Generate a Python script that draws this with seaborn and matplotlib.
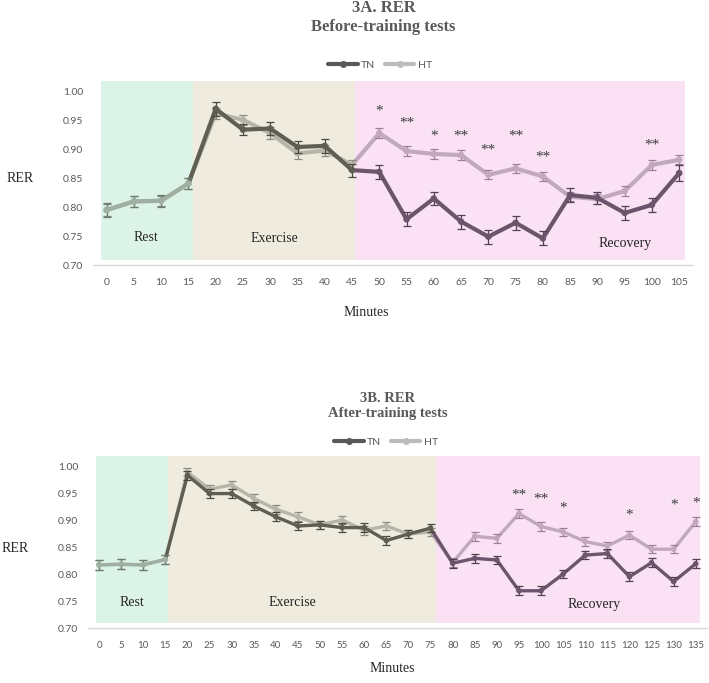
import numpy as np
import pandas as pd
import matplotlib
matplotlib.use('Agg')
import matplotlib.pyplot as plt
from matplotlib.lines import Line2D
import seaborn as sns

# 3A - before-training tests
minutes_a = list(range(0, 110, 5))
phase_a = ['rest'] * 4 + ['exercise'] * 6 + ['recovery'] * 12
tn_a = [0.795, 0.810, 0.811, 0.841, 0.970, 0.934, 0.936, 0.904, 0.906, 0.864, 0.861,
        0.779, 0.815, 0.775, 0.749, 0.773, 0.746, 0.821, 0.816, 0.790, 0.804, 0.859]
ht_a = [0.795, 0.810, 0.811, 0.841, 0.962, 0.951, 0.928, 0.893, 0.898, 0.873, 0.928,
        0.897, 0.892, 0.890, 0.856, 0.867, 0.853, 0.818, 0.814, 0.828, 0.873, 0.882]
tn_a_err = [0.012, 0.010, 0.010, 0.010, 0.012, 0.010, 0.011, 0.010, 0.012, 0.011, 0.012,
            0.012, 0.012, 0.012, 0.012, 0.012, 0.012, 0.012, 0.010, 0.012, 0.012, 0.014]
ht_a_err = [0.010, 0.009, 0.009, 0.009, 0.009, 0.009, 0.010, 0.010, 0.009, 0.009, 0.009,
            0.008, 0.008, 0.008, 0.008, 0.008, 0.008, 0.008, 0.008, 0.009, 0.008, 0.008]
stars_a_x = [50, 55, 60, 65, 70, 75, 80, 100]
stars_a_y = [0.966, 0.946, 0.923, 0.923, 0.899, 0.923, 0.887, 0.907]
stars_a_txt = ['*', '**', '*', '**', '**', '**', '**', '**']

# 3B - after-training tests
minutes_b = list(range(0, 140, 5))
phase_b = ['rest'] * 4 + ['exercise'] * 12 + ['recovery'] * 12
tn_b = [0.817, 0.818, 0.817, 0.827, 0.983, 0.949, 0.949, 0.926, 0.906, 0.889, 0.891, 0.886, 0.886, 0.862,
        0.874, 0.885, 0.820, 0.829, 0.826, 0.769, 0.769, 0.800, 0.835, 0.838, 0.795, 0.821, 0.786, 0.819]
ht_b = [0.817, 0.818, 0.817, 0.827, 0.989, 0.957, 0.965, 0.940, 0.920, 0.906, 0.891, 0.900, 0.881, 0.889,
        0.874, 0.878, 0.821, 0.870, 0.866, 0.912, 0.888, 0.878, 0.860, 0.852, 0.872, 0.846, 0.846, 0.897]
tn_b_err = [0.009] * 4 + [0.008] * 12 + [0.008] * 12
ht_b_err = [0.009] * 4 + [0.008] * 12 + [0.008] * 12
stars_b_x = [95, 100, 105, 120, 130, 135]
stars_b_y = [0.946, 0.938, 0.922, 0.910, 0.928, 0.931]
stars_b_txt = ['**', '**', '*', '*', '*', '*']

# phase spans (minutes) and label spots
spans_a = {'rest': (-1.1, 15.9), 'exercise': (15.9, 45.5), 'recovery': (45.5, 106)}
spans_b = {'rest': (-0.75, 15.7), 'exercise': (15.7, 76.2), 'recovery': (76.2, 136)}
labels_a = {'Rest': (7.2, 0.748), 'Exercise': (30.7, 0.745), 'Recovery': (95, 0.738)}
labels_b = {'Rest': (7.5, 0.748), 'Exercise': (43.7, 0.748), 'Recovery': (112, 0.743)}

bg = {'rest': '#dcf3e7', 'exercise': '#efebdf', 'recovery': '#fae2f4'}
line_col = {('TN', 'rest'): '#9fb0a3', ('HT', 'rest'): '#a5b5a8',
            ('TN', 'exercise'): '#5e5e52', ('HT', 'exercise'): '#b7b5a7',
            ('TN', 'recovery'): '#6c546c', ('HT', 'recovery'): '#c2a8bf'}
err_col = {('TN', 'rest'): '#6f7a70', ('HT', 'rest'): '#7d887f',
           ('TN', 'exercise'): '#4a4a40', ('HT', 'exercise'): '#8d8b7f',
           ('TN', 'recovery'): '#553f55', ('HT', 'recovery'): '#9c7f98'}

sns.set_style('white')
plt.rcParams['font.family'] = ['DejaVu Sans']
serif = 'Liberation Serif'
sans = 'Lato'
gray = '#595959'


def make_df(minutes, phase, tn, ht, tn_err, ht_err):
    df_tn = pd.DataFrame({'minutes': minutes, 'phase': phase, 'RER': tn, 'err': tn_err, 'group': 'TN'})
    df_ht = pd.DataFrame({'minutes': minutes, 'phase': phase, 'RER': ht, 'err': ht_err, 'group': 'HT'})
    return pd.concat([df_ht, df_tn], ignore_index=True)


def draw_panel(ax, df, spans, labels, stars, minutes, lw, ms, tick_fs):
    for ph, (x0, x1) in spans.items():
        ax.fill_between([x0, x1], 0.709, 1.018, color=bg[ph], lw=0, zorder=0)
    for name, (x, y) in labels.items():
        ax.text(x, y, name, family=serif, fontsize=10, color='#262626', ha='center', va='center', zorder=1)

    order = ['rest', 'exercise', 'recovery']
    for z, grp in enumerate(['HT', 'TN']):
        d = df[df['group'] == grp].reset_index(drop=True)
        for k, ph in enumerate(order):
            idx = list(d.index[d['phase'] == ph])
            if k > 0:
                idx = [idx[0] - 1] + idx
            seg = d.loc[idx]
            sns.lineplot(data=seg, x='minutes', y='RER', ax=ax, color=line_col[(grp, ph)],
                         lw=lw, sort=False, estimator=None, zorder=3 + z * 3)
        for ph in order:
            seg = d[d['phase'] == ph]
            ax.errorbar(seg['minutes'], seg['RER'], yerr=seg['err'], fmt='none',
                        ecolor=err_col[(grp, ph)], elinewidth=0.9, capsize=2.6, capthick=0.9,
                        zorder=4 + z * 3)
            sns.scatterplot(data=seg, x='minutes', y='RER', ax=ax, color=line_col[(grp, ph)],
                            s=ms, edgecolor='none', zorder=5 + z * 3, legend=False)

    for x, y, t in zip(*stars):
        ax.text(x, y, t, family=serif, fontsize=11, color='#3a3a3a', ha='center', va='center', zorder=10)

    ax.set_xlim(minutes[0] - 2.5, minutes[-1] + 2.5)
    ax.set_ylim(0.70, 1.02)
    ax.set_xticks(minutes)
    ax.set_xticklabels([str(m) for m in minutes], family=sans, fontsize=tick_fs, color=gray)
    ax.set_yticks([0.70, 0.75, 0.80, 0.85, 0.90, 0.95, 1.00])
    ax.set_yticklabels(['%.2f' % v for v in ax.get_yticks()], family=sans, fontsize=7.5, color=gray)
    ax.tick_params(axis='both', length=0)
    ax.tick_params(axis='x', pad=9)
    ax.tick_params(axis='y', pad=7)
    ax.set_xlabel('')
    ax.set_ylabel('')
    for s in ['top', 'right', 'left']:
        ax.spines[s].set_visible(False)
    ax.spines['bottom'].set_color('#d9d9d9')
    ax.spines['bottom'].set_linewidth(1)


fig = plt.figure(figsize=(7.09, 6.83), dpi=100)
ax_a = fig.add_axes([0.1312, 0.612, 0.846, 0.271])
ax_b = fig.add_axes([0.1241, 0.0805, 0.8728, 0.253])

df_a = make_df(minutes_a, phase_a, tn_a, ht_a, tn_a_err, ht_a_err)
df_b = make_df(minutes_b, phase_b, tn_b, ht_b, tn_b_err, ht_b_err)

draw_panel(ax_a, df_a, spans_a, labels_a, (stars_a_x, stars_a_y, stars_a_txt), minutes_a, 3.0, 22, 7.5)
draw_panel(ax_b, df_b, spans_b, labels_b, (stars_b_x, stars_b_y, stars_b_txt), minutes_b, 2.4, 16, 7)

# titles, axis labels, legends
fig.text(0.541, 1 - 8 / 683, '3A. RER', family=serif, weight='bold', fontsize=12, color=gray, ha='center', va='center')
fig.text(0.541, 1 - 27 / 683, 'Before-training tests', family=serif, weight='bold', fontsize=12, color=gray, ha='center', va='center')
fig.text(0.547, 1 - 398 / 683, '3B. RER', family=serif, weight='bold', fontsize=10.5, color=gray, ha='center', va='center')
fig.text(0.547, 1 - 414 / 683, 'After-training tests', family=serif, weight='bold', fontsize=10.5, color=gray, ha='center', va='center')

fig.text(20 / 709, 1 - 178 / 683, 'RER', family=serif, fontsize=10, color='#262626', ha='center', va='center')
fig.text(15 / 709, 1 - 548 / 683, 'RER', family=serif, fontsize=10, color='#262626', ha='center', va='center')
fig.text(366 / 709, 1 - 312 / 683, 'Minutes', family=serif, fontsize=10, color='#262626', ha='center', va='center')
fig.text(392 / 709, 1 - 668 / 683, 'Minutes', family=serif, fontsize=10, color='#262626', ha='center', va='center')

for (cx, cy) in [(380 / 709, 1 - 65 / 683), (386 / 709, 1 - 442 / 683)]:
    handles = [Line2D([], [], color='#595959', lw=3, marker='o', markersize=4),
               Line2D([], [], color='#bcbcbc', lw=3, marker='o', markersize=4)]
    fig.legend(handles, ['TN', 'HT'], loc='center', bbox_to_anchor=(cx, cy), ncol=2, frameon=False,
               prop={'family': sans, 'size': 7.5}, labelcolor=gray, handlelength=2.8,
               handletextpad=0.3, columnspacing=1.0)

fig.savefig('out.png', dpi=100)
